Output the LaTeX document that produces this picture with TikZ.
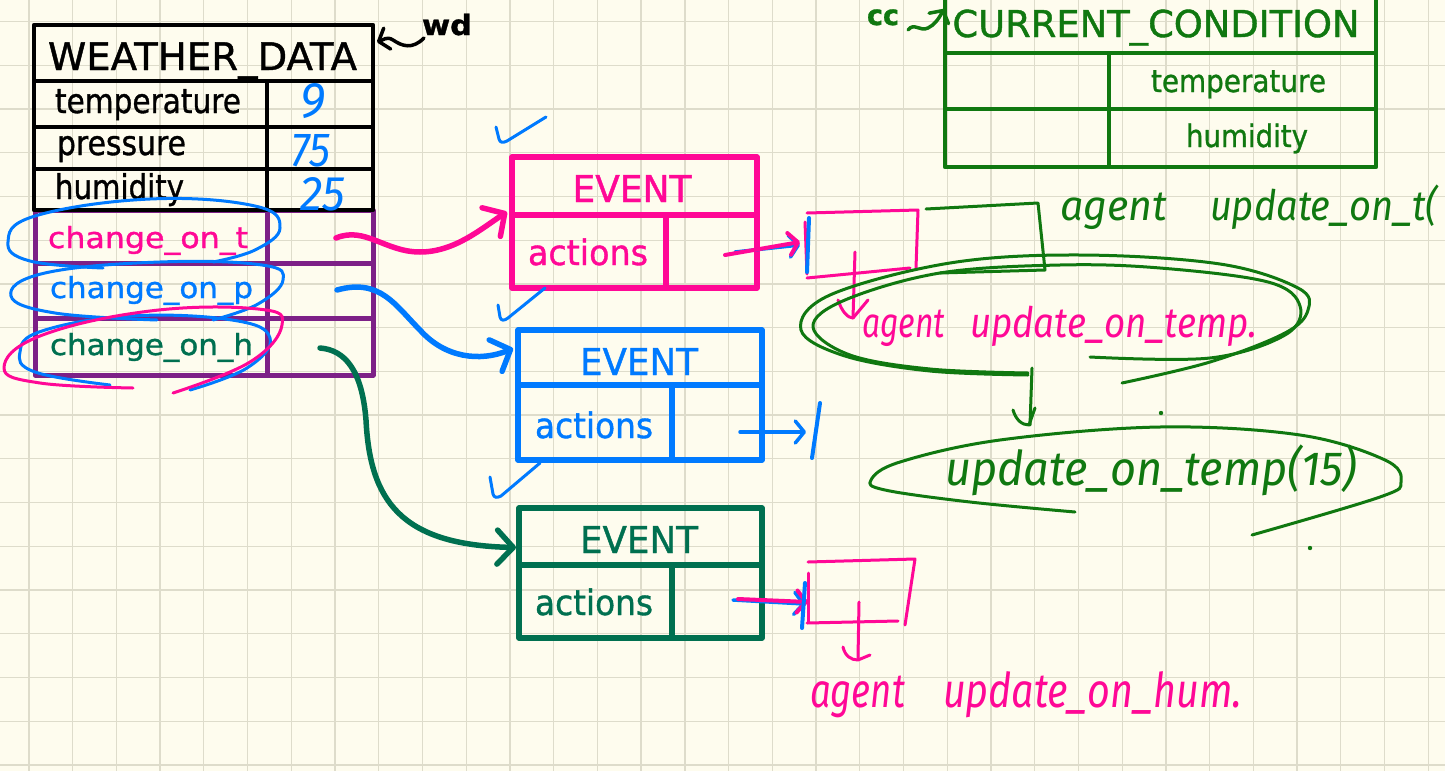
\documentclass[tikz,border=0pt]{standalone}
\usepackage{fontspec}
\usepackage{graphicx}
\setmainfont{DejaVu Sans}[FakeBold=1.1]
\newfontfamily\handfam{Fira Sans}
\newcommand\handfont{\handfam\itshape}
\usetikzlibrary{arrows.meta,fit}

\definecolor{paper}{RGB}{254,252,238}
\definecolor{gridc}{RGB}{222,220,203}
\definecolor{inkpink}{RGB}{255,8,150}
\definecolor{inkblue}{RGB}{0,122,255}
\definecolor{inkteal}{RGB}{0,112,80}
\definecolor{inkgreen}{RGB}{16,120,16}
\definecolor{inkpurple}{RGB}{125,32,135}

\newcommand\fs[1]{\fontsize{#1}{#1}\selectfont}
\newcommand\fitw[2]{\resizebox{#1pt}{\height}{#2}}
\newcommand\fitwh[3]{\resizebox{#1pt}{#2pt}{#3}}

\begin{document}
\begin{tikzpicture}[x=1pt,y=-1pt,
  cellbox/.style={draw, inner sep=0pt, outer sep=0pt, line join=round, fit={#1}},
  lbl/.style={inner sep=0pt, outer sep=0pt},
  gridline/.style={draw=gridc, line width=1.3pt},
  pen/.style={line width=3pt, line cap=round, line join=round},
  thickpen/.style={line width=5.5pt, line cap=round, line join=round},
  barb/.style={-{Straight Barb[length=16pt,width=34pt,round]}},
  smallbarb/.style={-{Straight Barb[length=9pt,width=22pt,round]}},
]
% paper and grid
\useasboundingbox (0,0) rectangle (1445,771);
\fill[paper] (0,0) rectangle (1445,771);
\foreach \i in {0,...,32} \draw[gridline] ({28.9+43.73*\i},0) -- ({28.9+43.73*\i},771);
\foreach \j in {0,...,17} \draw[gridline] (0,{21.5+43.73*\j}) -- (1445,{21.5+43.73*\j});

% ---------- WEATHER_DATA ----------
\begin{scope}[inkpurple, line width=5pt]
\node[cellbox={(35,210) (267,263)}] (wdct) {};
\node[cellbox={(267,210) (373,263)}] (wdctv) {};
\node[cellbox={(35,263) (267,318)}] (wdcp) {};
\node[cellbox={(267,263) (373,318)}] (wdcpv) {};
\node[cellbox={(35,318) (267,375)}] (wdch) {};
\node[cellbox={(267,318) (373,375)}] (wdchv) {};
\end{scope}
\begin{scope}[black, line width=4.2pt]
\node[cellbox={(34,25) (373,81)}] (wdhead) {};
\node[cellbox={(34,81) (267,127)}] (wdtemp) {};
\node[cellbox={(267,81) (373,127)}] (wdtempv) {};
\node[cellbox={(34,127) (267,169)}] (wdpres) {};
\node[cellbox={(267,127) (373,169)}] (wdpresv) {};
\node[cellbox={(34,169) (267,210)}] (wdhum) {};
\node[cellbox={(267,169) (373,210)}] (wdhumv) {};
\end{scope}
\node[lbl, anchor=base] (wdtitle) at (202.5,70) {\fs{38}\fitw{309}{WEATHER\_DATA}};
\node[lbl, anchor=base west] (ltemp) at (55,113) {\fs{34}\fitw{186}{temperature}};
\node[lbl, anchor=base west] (lpres) at (57,155) {\fs{34}\fitw{129}{pressure}};
\node[lbl, anchor=base west] (lhum) at (55,199) {\fs{34}\fitw{129}{humidity}};
\node[lbl, anchor=base west, text=inkpink] (lct) at (48,248) {\fs{29}\fitw{200}{change\_on\_t}};
\node[lbl, anchor=base west, text=inkblue] (lcp) at (50,298) {\fs{29}\fitw{203}{change\_on\_p}};
\node[lbl, anchor=base west, text=inkteal] (lch) at (50,355) {\fs{29}\fitw{203}{change\_on\_h}};
% handwritten values
\node[lbl, anchor=north west, text=inkblue] (vtemp) at (300,83) {\fitwh{25}{34}{\handfont 9}};
\node[lbl, anchor=north west, text=inkblue] (vpres) at (291,134) {\fitwh{39}{32}{\handfont 75}};
\node[lbl, anchor=north west, text=inkblue] (vhum) at (300,177) {\fitwh{45}{33}{\handfont 25}};

% wd pointer
\node[lbl, anchor=base west] (wd) at (422,35) {\fs{28}\bfseries\fitw{50}{wd}};
\coordinate (wdtail) at (424,38);
\draw[black, line width=3.5pt, line cap=round, smallbarb] (wdtail) .. controls (412,50) and (402,46) .. (393,40) .. controls (387,36) and (383,40) .. ([xshift=4pt,yshift=-17pt]wdhead.north east);

% loops round the labels
\draw[inkblue, pen] plot[smooth, tension=0.7] coordinates {(103,268) (30,261) (8,242) (35,216) (150,199) (255,206) (280,228) (255,250) (213,262)};
\draw[inkblue, pen] plot[smooth, tension=0.7] coordinates {(157,320) (55,313) (11,296) (45,273) (160,262) (262,265) (283,280) (258,304) (213,320)};
\draw[inkblue, pen] plot[smooth, tension=0.7] coordinates {(110,385) (35,372) (20,352) (42,331) (130,316) (232,320) (270,338) (247,368) (190,390)};
\draw[inkpink, pen] plot[smooth, tension=0.7] coordinates {(133,388) (40,383) (4,368) (40,336) (150,311) (258,309) (282,325) (250,362) (173,393)};

% ---------- EVENT objects ----------
\begin{scope}[inkpink, line width=5.5pt]
\node[cellbox={(512,157) (757,215)}] (pehead) {};
\node[cellbox={(512,215) (666,288)}] (peact) {};
\node[cellbox={(666,215) (757,288)}] (peval) {};
\end{scope}
\node[lbl, anchor=base, text=inkpink] (petitle) at (632,202) {\fs{37}\fitw{119}{EVENT}};
\node[lbl, anchor=base west, text=inkpink] (peacts) at (528,265) {\fs{35}\fitw{120}{actions}};

\begin{scope}[inkblue, line width=5.5pt]
\node[cellbox={(518,330) (762,385)}] (behead) {};
\node[cellbox={(518,385) (672,460)}] (beact) {};
\node[cellbox={(672,385) (762,460)}] (beval) {};
\end{scope}
\node[lbl, anchor=base, text=inkblue] (betitle) at (639,375) {\fs{37}\fitw{118}{EVENT}};
\node[lbl, anchor=base west, text=inkblue] (beacts) at (535,438) {\fs{35}\fitw{118}{actions}};

\begin{scope}[inkteal, line width=5.5pt]
\node[cellbox={(519,508) (762,565)}] (gehead) {};
\node[cellbox={(519,565) (672,638)}] (geact) {};
\node[cellbox={(672,565) (762,638)}] (geval) {};
\end{scope}
\node[lbl, anchor=base, text=inkteal] (getitle) at (639,553) {\fs{37}\fitw{118}{EVENT}};
\node[lbl, anchor=base west, text=inkteal] (geacts) at (535,615) {\fs{35}\fitw{118}{actions}};

% check marks
\draw[inkblue, pen] (496,127) -- (499,139) .. controls (500,143) and (503,143) .. (507,141) -- (546,117);
\draw[inkblue, pen] (498,305) -- (500,317) .. controls (501,321) and (504,321) .. (508,318) -- (545,288);
\draw[inkblue, pen] (490,477) -- (493,494) .. controls (494,498) and (497,498) .. (501,496) -- (540,463);

% connectors from the change_on_* slots
\coordinate (srcT) at (336,238);
\coordinate (srcP) at (337,290);
\coordinate (srcH) at (320,348);
\draw[inkpink, thickpen, barb] (srcT) .. controls (365,226) and (385,252) .. (420,252) .. controls (455,252) and (482,228) .. ([xshift=-5pt,yshift=3pt]pehead.south west);
\draw[inkblue, thickpen, barb] (srcP) .. controls (380,278) and (395,305) .. (420,330) .. controls (445,358) and (480,362) .. ([xshift=-5pt,yshift=9pt]behead.west);
\draw[inkteal, thickpen, barb] (srcH) .. controls (345,350) and (362,370) .. (366,420) .. controls (370,500) and (400,545) .. ([xshift=-3pt,yshift=-11pt]gehead.west);

% ---------- actions of the pink event ----------
\coordinate (pa0) at (725,255);
\coordinate (pa1) at (800,242);
\coordinate (pb0) at (735,252);
\coordinate (pb1) at (800,245);
\draw[inkblue, line width=3.5pt, line cap=round, smallbarb] (pb0) -- (pb1);
\draw[inkpink, line width=4pt, line cap=round, smallbarb] (pa0) -- (pa1);
\draw[inkpink, pen] (805,222) -- (807,274);
\draw[inkpink, pen] (807,213) -- (918,210) -- (916,268);
\draw[inkpink, pen] (807,278) -- (910,268);
\draw[inkblue, line width=4pt, line cap=round] (809,218) -- (807,272);
\draw[inkpink, pen] (855,252) -- (853,318);
\draw[inkpink, pen] (838,300) .. controls (842,312) and (848,318) .. (853,318) -- (868,300);
\draw[inkgreen, pen] (926,209) -- (1038,203) -- (1045,270) -- (940,273);

% handwritten calls
\node[lbl, anchor=base west, text=inkpink] (hpa) at (862,337) {\fs{42}\handfont\fitw{83}{agent}};
\node[lbl, anchor=base west, text=inkpink] (hpb) at (970,337) {\fs{42}\handfont\fitw{287}{update\_on\_temp.}};
\node[lbl, anchor=base west, text=inkgreen] (hga) at (1060,220) {\fs{42}\handfont\fitw{107}{agent}};
\node[lbl, anchor=base west, text=inkgreen] (hgb) at (1210,220) {\fs{42}\handfont\fitw{228}{update\_on\_t(}};

% double loop round the agent call
\draw[inkgreen, pen] plot[smooth, tension=0.6] coordinates {(1028,375) (930,371) (845,356) (801,330) (830,295) (950,263) (1080,255) (1220,264) (1298,288) (1308,310) (1285,333) (1210,362) (1122,383)};
\draw[inkgreen, pen] plot[smooth, tension=0.6] coordinates {(1090,357) (1210,358) (1285,335) (1300,306) (1268,282) (1160,268) (1060,265) (940,273) (845,300) (813,327) (850,355) (930,369) (1028,373)};
\draw[inkgreen, pen] (1032,368) -- (1030,425);
\draw[inkgreen, pen] (1013,410) .. controls (1016,420) and (1022,425) .. (1029,425) -- (1035,408);

% the call on the current condition
\node[lbl, anchor=base west, text=inkgreen] (hu) at (945,485) {\fs{48}\handfont\fitw{412}{update\_on\_temp(15)}};
\draw[inkgreen, pen] plot[smooth, tension=0.6] coordinates {(1075,512) (970,502) (885,490) (871,480) (900,462) (1000,440) (1160,427) (1300,435) (1385,460) (1401,482) (1380,497) (1252,535)};
\fill[inkgreen] (1161,413) circle (2.2);
\fill[inkgreen] (1310,548) circle (2.2);

% ---------- actions of the blue event ----------
\coordinate (ba0) at (740,432);
\coordinate (ba1) at (806,432);
\draw[inkblue, line width=3.5pt, line cap=round, smallbarb] (ba0) -- (ba1);
\draw[inkblue, line width=4pt, line cap=round] (820,403) -- (812,458);

% ---------- actions of the green event ----------
\coordinate (ga0) at (738,599);
\coordinate (ga1) at (808,602);
\coordinate (gb0) at (733,600);
\coordinate (gb1) at (805,604);
\draw[inkblue, line width=3.5pt, line cap=round, smallbarb] (gb0) -- (gb1);
\draw[inkpink, line width=4pt, line cap=round, smallbarb] (ga0) -- (ga1);
\draw[inkblue, line width=4pt, line cap=round] (805,583) -- (802,628);
\draw[inkpink, pen] (808,573) -- (808,622);
\draw[inkpink, pen] (808,562) -- (915,559) -- (905,625);
\draw[inkpink, pen] (807,623) -- (898,621);
\draw[inkpink, pen] (859,602) -- (858,658);
\draw[inkpink, pen] (843,647) .. controls (845,656) and (851,660) .. (858,660) -- (870,655);
\node[lbl, anchor=base west, text=inkpink] (hha) at (810,707) {\fs{48}\handfont\fitw{95}{agent}};
\node[lbl, anchor=base west, text=inkpink] (hhb) at (943,707) {\fs{48}\handfont\fitw{299}{update\_on\_hum.}};

% ---------- CURRENT_CONDITION ----------
\begin{scope}[inkgreen, line width=4.5pt]
\node[cellbox={(945,-6) (1376,53)}] (cchead) {};
\node[cellbox={(945,53) (1109,109)}] (cct) {};
\node[cellbox={(1109,53) (1376,109)}] (cctl) {};
\node[cellbox={(945,109) (1109,167)}] (cch) {};
\node[cellbox={(1109,109) (1376,167)}] (cchl) {};
\end{scope}
\node[lbl, anchor=base, text=inkgreen] (cctitle) at (1156,37) {\fs{37}\fitw{407}{CURRENT\_CONDITION}};
\node[lbl, anchor=base west, text=inkgreen] (cctemp) at (1151,92) {\fs{31}\fitw{175}{temperature}};
\node[lbl, anchor=base west, text=inkgreen] (cchum) at (1186,147) {\fs{31}\fitw{122}{humidity}};
\node[lbl, anchor=base west, text=inkgreen] (cc) at (867,25) {\fs{28}\bfseries\fitw{32}{cc}};
\coordinate (cctail) at (908,30);
\draw[inkgreen, line width=3.5pt, line cap=round, smallbarb] (cctail) .. controls (914,22) and (920,32) .. (928,28) .. controls (934,25) and (938,20) .. ([xshift=-1pt,yshift=-15pt]cchead.north west);
\end{tikzpicture}
\end{document}
